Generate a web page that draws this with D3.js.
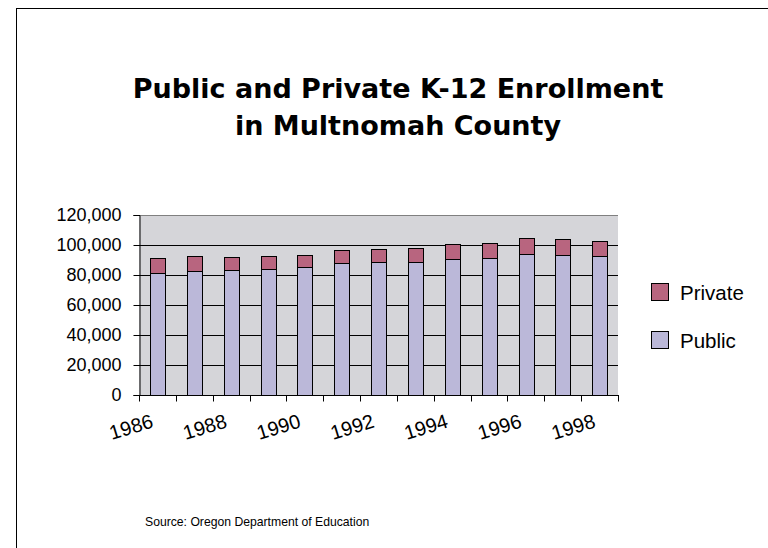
<!DOCTYPE html>
<html>
<head>
<meta charset="utf-8">
<script src="https://cdn.jsdelivr.net/npm/d3@7/dist/d3.min.js"></script>
<style>
  html, body { margin: 0; padding: 0; background: #fff; }
  svg { display: block; }
</style>
</head>
<body>
<svg id="chart" width="768" height="548"></svg>
<script>
// Enrollment by school year (Multnomah County, K-12)
const years = [1986, 1987, 1988, 1989, 1990, 1991, 1992, 1993, 1994, 1995, 1996, 1997, 1998];
const publicEnrollment  = [81500, 82800, 83100, 83700, 85100, 87700, 88400, 88600, 90600, 91300, 94000, 93300, 92600];
const privateEnrollment = [9600, 9600, 8900, 8700, 8400, 8700, 8900, 9200, 10000, 10000, 10400, 10700, 10000];
const yTicks = [0, 20000, 40000, 60000, 80000, 100000, 120000];
const yearLabels = [1986, 1988, 1990, 1992, 1994, 1996, 1998];
const seriesNames = ["Private", "Public"];
const seriesColors = { Public: "#bbb8d9", Private: "#b8657f" };

const svg = d3.select("#chart");

// outer chart frame
svg.append("rect")
  .attr("x", 16.5).attr("y", 8.5)
  .attr("width", 800).attr("height", 600)
  .attr("fill", "none").attr("stroke", "#000").attr("stroke-width", 1);

// title
const title = svg.append("text")
  .attr("text-anchor", "middle")
  .attr("font-family", "'DejaVu Sans', Verdana, sans-serif")
  .attr("font-weight", "bold")
  .attr("font-size", 27)
  .attr("fill", "#000");
title.append("tspan").attr("x", 398).attr("y", 98).text("Public and Private K-12 Enrollment");
title.append("tspan").attr("x", 398).attr("y", 135).text("in Multnomah County");

const plot = { left: 139, right: 618, top: 215, bottom: 395 };

const x = d3.scaleBand()
  .domain(years)
  .range([plot.left, plot.right])
  .paddingInner(0.6)
  .paddingOuter(0.3);

const xEdges = d3.scaleLinear().domain([0, years.length]).range([plot.left, plot.right]);

const y = d3.scaleLinear()
  .domain([0, 120000])
  .range([plot.bottom, plot.top]);

// plot area background
svg.append("rect")
  .attr("x", plot.left).attr("y", plot.top)
  .attr("width", plot.right - plot.left)
  .attr("height", plot.bottom - plot.top)
  .attr("fill", "#d5d5d9");

// gridlines
svg.append("g")
  .selectAll("line")
  .data(yTicks.filter(d => d > 0))
  .join("line")
  .attr("x1", plot.left).attr("x2", plot.right)
  .attr("y1", d => Math.round(y(d)) + 0.5)
  .attr("y2", d => Math.round(y(d)) + 0.5)
  .attr("stroke", d => d === 120000 ? "#808080" : "#000")
  .attr("stroke-width", 1);

// stacked bars
const rows = years.map((yr, i) => ({ year: yr, Public: publicEnrollment[i], Private: privateEnrollment[i] }));
const stacked = d3.stack().keys(["Public", "Private"])(rows);

svg.append("g")
  .selectAll("g")
  .data(stacked)
  .join("g")
  .attr("fill", d => seriesColors[d.key])
  .selectAll("rect")
  .data(d => d)
  .join("rect")
  .attr("x", d => Math.round(x(d.data.year)) + 0.5)
  .attr("width", Math.round(x.bandwidth()))
  .attr("y", d => Math.round(y(d[1])) + 0.5)
  .attr("height", d => Math.round(y(d[0])) - Math.round(y(d[1])))
  .attr("stroke", "#000")
  .attr("stroke-width", 1);

// y axis
const yAxis = d3.axisLeft(y)
  .tickValues(yTicks)
  .tickSize(6)
  .tickPadding(12)
  .tickFormat(d3.format(","));
const yg = svg.append("g")
  .attr("transform", `translate(${plot.left + 0.5},0)`)
  .call(yAxis);
yg.select(".domain").attr("stroke", "#000");
yg.selectAll(".tick line").attr("stroke", "#000");
yg.selectAll(".tick text")
  .attr("font-family", "'Liberation Sans', Arial, sans-serif")
  .attr("font-size", 18)
  .attr("fill", "#000");

// x axis: ticks between categories
const xg = svg.append("g")
  .attr("transform", `translate(0,${plot.bottom + 0.5})`);
xg.append("line")
  .attr("x1", plot.left).attr("x2", plot.right + 1)
  .attr("stroke", "#000");
xg.selectAll(".tk")
  .data(d3.range(years.length + 1))
  .join("line")
  .attr("class", "tk")
  .attr("x1", d => Math.round(xEdges(d)) + 0.5)
  .attr("x2", d => Math.round(xEdges(d)) + 0.5)
  .attr("y1", 0).attr("y2", 6)
  .attr("stroke", "#000");

// slanted year labels
svg.append("g")
  .selectAll("text")
  .data(yearLabels)
  .join("text")
  .attr("transform", d => `translate(${x(d) + x.bandwidth() / 2 - 3},${plot.bottom + 32}) rotate(-17)`)
  .attr("text-anchor", "end")
  .attr("font-family", "'Liberation Sans', Arial, sans-serif")
  .attr("font-size", 20)
  .attr("fill", "#000")
  .text(d => d);

// legend
const legend = svg.append("g")
  .selectAll("g")
  .data(seriesNames)
  .join("g")
  .attr("transform", (d, i) => `translate(651,${283 + i * 48})`);
legend.append("rect")
  .attr("x", 0.5).attr("y", 0.5)
  .attr("width", 17).attr("height", 17)
  .attr("fill", d => seriesColors[d])
  .attr("stroke", "#000");
legend.append("text")
  .attr("x", 29).attr("y", 17)
  .attr("font-family", "'Liberation Sans', Arial, sans-serif")
  .attr("font-size", 20.5)
  .attr("fill", "#000")
  .text(d => d);

// source note
svg.append("text")
  .attr("x", 145).attr("y", 526)
  .attr("font-family", "'Liberation Sans', Arial, sans-serif")
  .attr("font-size", 12.2)
  .attr("fill", "#000")
  .text("Source: Oregon Department of Education");
</script>
</body>
</html>
